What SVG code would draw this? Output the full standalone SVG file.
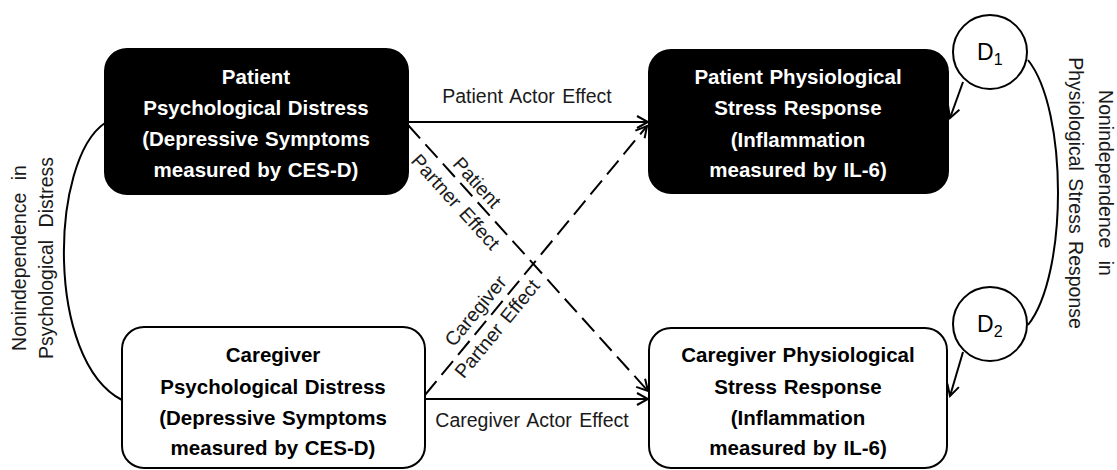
<svg xmlns="http://www.w3.org/2000/svg" width="1117" height="470" viewBox="0 0 1117 470">
<style>
.box{stroke:#000;stroke-width:2}
.dark{fill:#000}
.light{fill:#fff}
.bt{font-family:"Liberation Sans",Arial,sans-serif;font-weight:bold;font-size:20.5px;text-anchor:middle;word-spacing:1px}
.wt{fill:#fff}
.kt{fill:#000}
.lbl{font-family:"Liberation Sans",Arial,sans-serif;font-size:19.5px;fill:#1a1a1a;text-anchor:middle;word-spacing:2px}
.side{word-spacing:7px}
.ln{fill:none;stroke:#000;stroke-width:2}
.dash{stroke-dasharray:18 8}
.circ{fill:#fff;stroke:#000;stroke-width:2}
.dt{font-family:"Liberation Sans",Arial,sans-serif;font-size:23px;fill:#000}
</style>
<defs>
<marker id="arr" viewBox="-13 -8 15 16" markerWidth="15" markerHeight="16" refX="0" refY="0" orient="auto" markerUnits="userSpaceOnUse">
<path d="M-11,-6 L0,0 L-11,6" fill="none" stroke="#000" stroke-width="2"/>
</marker>
</defs>
<rect width="1117" height="470" fill="#fff"/>
<g id="connectors">
<path class="ln" d="M105,123 C50,160 45,360 122,400"/>
<path class="ln" d="M1028,60 C1068,110 1068,275 1028,325"/>
<line class="ln" x1="408" y1="122" x2="648" y2="122" marker-end="url(#arr)"/>
<line class="ln" x1="425" y1="399" x2="648" y2="399" marker-end="url(#arr)"/>
<line class="ln dash" x1="408" y1="125" x2="648" y2="391" marker-end="url(#arr)"/>
<line class="ln dash" x1="425" y1="395" x2="647" y2="126" marker-end="url(#arr)"/>
<line class="ln" x1="963" y1="82" x2="950" y2="118" marker-end="url(#arr)"/>
<line class="ln" x1="963" y1="352" x2="950" y2="396" marker-end="url(#arr)"/>
<text class="lbl" x="527" y="103">Patient Actor Effect</text>
<text class="lbl" x="532" y="427">Caregiver Actor Effect</text>
<g transform="translate(408,125) rotate(47.9)">
<text class="lbl" x="89" y="-6">Patient</text>
<text class="lbl" x="89" y="23">Partner Effect</text>
</g>
<g transform="translate(425,395) rotate(-50.4)">
<text class="lbl" x="97" y="-8">Caregiver</text>
<text class="lbl" x="97" y="20">Partner Effect</text>
</g>
<text class="lbl side" transform="translate(26,258) rotate(-90)">Nonindependence in</text>
<text class="lbl side" transform="translate(53,258) rotate(-90)">Psychological Distress</text>
<text class="lbl side" transform="translate(1099,183) rotate(90)">Nonindependence in</text>
<text class="lbl" transform="translate(1069,193) rotate(90)">Physiological Stress Response</text>
</g>
<g id="patient-distress">
<rect class="box dark" x="105" y="49" width="303" height="145" rx="22"/>
<text class="bt wt" x="256" y="84">Patient</text>
<text class="bt wt" x="256" y="115">Psychological Distress</text>
<text class="bt wt" x="256" y="146">(Depressive Symptoms</text>
<text class="bt wt" x="256" y="177">measured by CES-D)</text>
</g>
<g id="caregiver-distress">
<rect class="box light" x="122" y="327" width="303" height="141" rx="22"/>
<text class="bt kt" x="273" y="362">Caregiver</text>
<text class="bt kt" x="273" y="394">Psychological Distress</text>
<text class="bt kt" x="273" y="425">(Depressive Symptoms</text>
<text class="bt kt" x="273" y="455">measured by CES-D)</text>
</g>
<g id="patient-stress">
<rect class="box dark" x="649" y="50" width="299" height="143" rx="22"/>
<text class="bt wt" x="798" y="84">Patient Physiological</text>
<text class="bt wt" x="798" y="115">Stress Response</text>
<text class="bt wt" x="798" y="147">(Inflammation</text>
<text class="bt wt" x="798" y="177">measured by IL-6)</text>
</g>
<g id="caregiver-stress">
<rect class="box light" x="649" y="328" width="298" height="140" rx="22"/>
<text class="bt kt" x="798" y="362">Caregiver Physiological</text>
<text class="bt kt" x="798" y="394">Stress Response</text>
<text class="bt kt" x="798" y="425">(Inflammation</text>
<text class="bt kt" x="798" y="455">measured by IL-6)</text>
</g>
<g id="D1">
<circle class="circ" cx="990" cy="52" r="37"/>
<text class="dt" x="977" y="60">D<tspan font-size="16" dy="5">1</tspan></text>
</g>
<g id="D2">
<circle class="circ" cx="990" cy="324" r="37"/>
<text class="dt" x="977" y="332">D<tspan font-size="16" dy="5">2</tspan></text>
</g>
</svg>
